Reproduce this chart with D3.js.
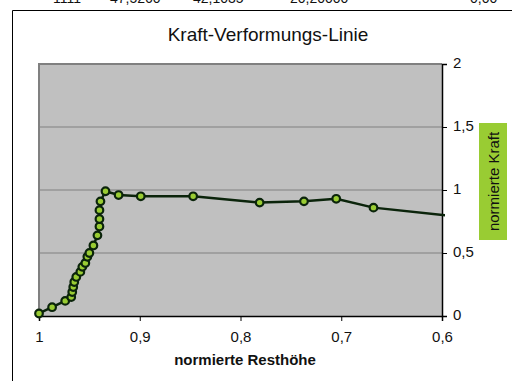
<!DOCTYPE html>
<html><head><meta charset="utf-8">
<script src="https://cdn.jsdelivr.net/npm/d3@7"></script>
<style>body{margin:0;background:#fff}svg{display:block}text{font-family:"Liberation Sans",Arial,sans-serif}</style>
</head><body>
<svg id="c" width="512" height="381"></svg>
<script>
const title = "Kraft-Verformungs-Linie";
const xLabel = "normierte Resthöhe";
const yLabel = "normierte Kraft";
const resthoehe = [1.0,0.987,0.974,0.968,0.967,0.966,0.965,0.963,0.959,0.957,0.954,0.952,0.950,0.946,0.942,0.940,0.940,0.940,0.939,0.934,0.921,0.899,0.847,0.781,0.737,0.705,0.668,0.55];
const kraft     = [0.02,0.07,0.12,0.15,0.19,0.23,0.27,0.31,0.35,0.39,0.42,0.47,0.50,0.56,0.64,0.71,0.77,0.84,0.91,0.99,0.96,0.95,0.95,0.90,0.91,0.93,0.86,0.76];
const xTicks = [1,0.9,0.8,0.7,0.6];
const xTickLabels = ["1","0,9","0,8","0,7","0,6"];
const yTicks = [0,0.5,1,1.5,2];
const yTickLabels = ["0","0,5","1","1,5","2"];
const headerTexts = ["1111","47,5260","42,1035","20,20000","0,00"];
const headerX = [53,110,193,290,470];

const svg = d3.select("#c");
const L=39,R=442,T=64,B=316;
const x = d3.scaleLinear().domain([1,0.6]).range([L,R]);
const y = d3.scaleLinear().domain([0,2]).range([B,T]);

// cut-off header row (as in the reference, only the bottom of the glyphs shows)
svg.selectAll("text.hdr").data(headerTexts).enter().append("text")
  .attr("x",(d,i)=>headerX[i]).attr("y",2.5).attr("font-size",14).attr("fill","#111").text(d=>d);

// outer frame
svg.append("path").attr("d","M12.5,381V10.5H512").attr("fill","none").attr("stroke","#000").attr("stroke-width",1);

svg.append("text").attr("x",268).attr("y",41).attr("text-anchor","middle").attr("font-size",19).attr("fill","#111").text(title);

// plot area
svg.append("rect").attr("x",L).attr("y",T).attr("width",R-L).attr("height",B-T).attr("fill","#c0c0c0");
svg.selectAll("line.grid").data(yTicks.filter(d=>d>0)).enter().append("line")
  .attr("x1",L).attr("x2",R).attr("y1",d=>y(d)).attr("y2",d=>y(d)).attr("stroke","#808080").attr("stroke-width",1.2);
svg.append("path").attr("d",`M${L},${B}V${T}H${R}`).attr("fill","none").attr("stroke","#808080").attr("stroke-width",2);

// axes
const xa = svg.append("g").attr("transform",`translate(0,${B})`)
  .call(d3.axisBottom(x).tickValues(xTicks).tickSize(5).tickFormat((d,i)=>xTickLabels[i]));
xa.select(".domain").attr("stroke","#000").attr("stroke-width",1.5);
xa.selectAll(".tick line").attr("stroke","#000");
xa.selectAll("text").attr("font-size",15).attr("fill","#111").attr("dy","1.2em");

const ya = svg.append("g").attr("transform",`translate(${R},0)`)
  .call(d3.axisRight(y).tickValues(yTicks).tickSize(5).tickFormat((d,i)=>yTickLabels[i]));
ya.select(".domain").attr("stroke","#000").attr("stroke-width",1.5);
ya.selectAll(".tick line").attr("stroke","#000");
ya.selectAll("text").attr("font-size",15).attr("fill","#111").attr("x",11).attr("dy","0.2em");

svg.append("text").attr("x",245).attr("y",365).attr("text-anchor","middle").attr("font-size",15).attr("font-weight","bold").attr("fill","#111").text(xLabel);

// y label box
svg.append("rect").attr("x",479).attr("y",123).attr("width",28).attr("height",117).attr("fill","#99cc33");
svg.append("text").attr("transform","translate(499,181.5) rotate(-90)").attr("text-anchor","middle").attr("font-size",15).attr("fill","#111").text(yLabel);

// data
const data = resthoehe.map((d,i)=>({x:d,y:kraft[i]}));
svg.append("clipPath").attr("id","clip").append("rect").attr("x",L-6).attr("y",T-6).attr("width",R-L+9).attr("height",B-T+12);
const g = svg.append("g").attr("clip-path","url(#clip)");
g.append("path").datum(data).attr("d",d3.line().x(d=>x(d.x)).y(d=>y(d.y)))
  .attr("fill","none").attr("stroke","#0b240b").attr("stroke-width",2.5);
g.selectAll("circle").data(data.filter(d=>d.x>=0.6)).enter().append("circle")
  .attr("cx",d=>x(d.x)).attr("cy",d=>y(d.y)).attr("r",3.8)
  .attr("fill","#99cc33").attr("stroke","#0b240b").attr("stroke-width",2.2);
</script>
</body></html>
